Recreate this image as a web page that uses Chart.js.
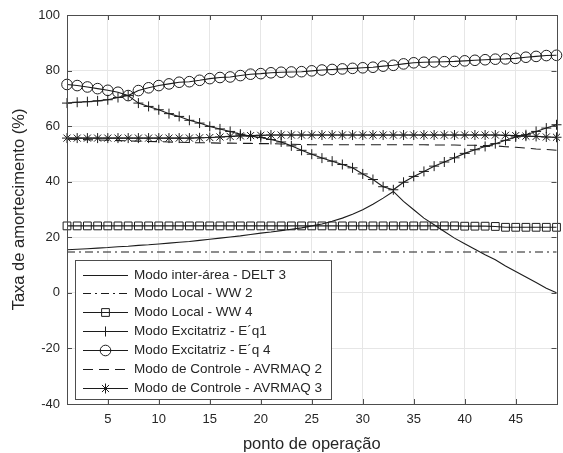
<!DOCTYPE html>
<html>
<head>
<meta charset="utf-8">
<script src="https://cdn.jsdelivr.net/npm/chart.js@4.4.1/dist/chart.umd.min.js"></script>
<style>
  html, body { margin: 0; padding: 0; background: #fff; }
  canvas { display: block; }
</style>
</head>
<body>
<canvas id="dampingChart" width="563" height="453"></canvas>
<script>
// ponto de operação 1..49
const operatingPoints = [1,2,3,4,5,6,7,8,9,10,11,12,13,14,15,16,17,18,19,20,21,22,23,24,25,26,27,28,29,30,31,32,33,34,35,36,37,38,39,40,41,42,43,44,45,46,47,48,49];
const xTickValues = [5,10,15,20,25,30,35,40,45];
const yTickValues = [-40,-20,0,20,40,60,80,100];

// taxa de amortecimento (%) por modo
const delt3 = [15.5,15.7,15.9,16.1,16.3,16.6,16.8,17.1,17.3,17.6,17.9,18.2,18.5,18.9,19.3,19.7,20.1,20.5,21.0,21.5,21.9,22.4,22.9,23.4,24.1,24.8,25.8,26.9,28.3,29.9,31.9,34.1,36.5,32.9,29.9,26.9,24.5,22.1,19.7,17.7,15.7,13.7,11.9,9.7,7.7,5.7,3.7,1.7,0.0];
const ww2 = [14.7,14.7,14.7,14.7,14.7,14.7,14.7,14.7,14.7,14.7,14.7,14.7,14.7,14.7,14.7,14.7,14.7,14.7,14.7,14.7,14.7,14.7,14.7,14.7,14.7,14.7,14.7,14.7,14.7,14.7,14.7,14.7,14.7,14.7,14.7,14.7,14.7,14.7,14.7,14.7,14.7,14.7,14.7,14.7,14.7,14.7,14.7,14.7,14.7];
const ww4 = [24.1,24.1,24.1,24.1,24.1,24.1,24.1,24.1,24.1,24.1,24.1,24.1,24.1,24.1,24.1,24.1,24.1,24.1,24.1,24.1,24.1,24.1,24.1,24.1,24.1,24.1,24.1,24.1,24.1,24.1,24.1,24.1,24.1,24.1,24.1,24.1,24.1,24.1,24.1,24.0,24.0,24.0,23.9,23.6,23.6,23.6,23.6,23.6,23.6];
const eq1 = [68.3,68.6,68.8,69.1,69.5,70.3,71.0,68.3,67.1,65.9,64.5,63.5,62.1,61.1,59.9,59.0,58.1,57.1,56.4,55.9,55.2,54.3,52.9,51.3,49.9,48.5,47.4,46.2,45.0,42.8,40.8,38.2,37.1,39.8,41.9,43.7,45.6,47.1,48.6,50.2,51.5,52.7,53.7,54.9,56.1,56.9,58.1,59.3,60.5];
const eq4 = [75.0,74.6,74.1,73.5,72.9,72.2,71.0,72.8,73.8,74.6,75.2,75.8,76.0,76.5,77.1,77.5,77.7,78.2,78.7,78.9,79.2,79.4,79.5,79.6,79.9,80.2,80.4,80.6,80.8,81.0,81.2,81.6,81.9,82.4,82.8,83.0,83.1,83.2,83.3,83.5,83.7,83.9,84.1,84.2,84.4,84.8,85.1,85.4,85.5];
const avrmaq2 = [55.3,55.2,55.1,55.0,54.9,54.8,54.7,54.6,54.5,54.4,54.3,54.2,54.1,54.0,54.0,53.9,53.9,53.8,53.8,53.7,53.7,53.6,53.5,53.4,53.3,53.3,53.3,53.3,53.3,53.3,53.3,53.3,53.3,53.3,53.3,53.3,53.2,53.2,53.2,53.1,53.1,53.0,52.9,52.6,52.4,52.1,51.8,51.6,51.3];
const avrmaq3 = [55.7,55.7,55.7,55.7,55.7,55.7,55.7,55.7,55.7,55.7,55.7,55.7,55.7,55.8,55.9,56.1,56.3,56.5,56.6,56.7,56.8,56.8,56.8,56.8,56.8,56.8,56.8,56.8,56.8,56.8,56.8,56.8,56.8,56.8,56.8,56.8,56.8,56.8,56.8,56.8,56.8,56.8,56.8,56.7,56.6,56.4,56.3,56.1,56.0];

const seriesNames = [
    'Modo inter-área - DELT 3',
    'Modo Local - WW 2',
    'Modo Local - WW 4',
    'Modo Excitatriz - E\u00B4q1',
    'Modo Excitatriz - E\u00B4q 4',
    'Modo de Controle - AVRMAQ 2',
    'Modo de Controle - AVRMAQ 3'
];

const FONT = "'Liberation Sans', Arial, sans-serif";
const INK = '#1c1c1c';
const FRAME = '#4d4d4d';

function toPoints(values) {
    return operatingPoints.map((x, i) => ({ x: x, y: values[i] }));
}

function series(i, values, dash, marker, size) {
    return {
        label: seriesNames[i],
        data: toPoints(values),
        borderColor: INK,
        borderWidth: 1.1,
        borderDash: dash,
        pointStyle: marker || 'circle',
        pointRadius: marker ? size : 0,
        pointBorderColor: INK,
        pointBorderWidth: 1,
        pointBackgroundColor: 'rgba(0,0,0,0)',
        tension: 0,
        clip: false
    };
}

// box round the axes with MATLAB-style inward ticks
const axesFrame = {
    id: 'axesFrame',
    afterDraw(chart) {
        const ctx = chart.ctx;
        const a = chart.chartArea;
        const xs = chart.scales.x, ys = chart.scales.y;
        const tl = 5;
        ctx.save();
        ctx.strokeStyle = FRAME;
        ctx.lineWidth = 1;
        ctx.beginPath();
        xTickValues.forEach(v => {
            const px = Math.round(xs.getPixelForValue(v)) + 0.5;
            ctx.moveTo(px, a.bottom); ctx.lineTo(px, a.bottom - tl);
            ctx.moveTo(px, a.top); ctx.lineTo(px, a.top + tl);
        });
        yTickValues.forEach(v => {
            const py = Math.round(ys.getPixelForValue(v)) + 0.5;
            ctx.moveTo(a.left, py); ctx.lineTo(a.left + tl, py);
            ctx.moveTo(a.right, py); ctx.lineTo(a.right - tl, py);
        });
        ctx.stroke();
        ctx.strokeRect(Math.round(a.left) + 0.5, Math.round(a.top) + 0.5,
            Math.round(a.right - a.left), Math.round(a.bottom - a.top));
        ctx.restore();
    }
};

// legend box in the lower left corner of the axes
const insideLegend = {
    id: 'insideLegend',
    afterDraw(chart) {
        const ctx = chart.ctx;
        const a = chart.chartArea;
        const w = 256, h = 139;
        const left = a.left + 8, top = a.bottom - 5 - h;
        const rowStep = 18.95, firstRow = top + 14.5;
        ctx.save();
        ctx.fillStyle = '#fff';
        ctx.fillRect(left, top, w, h);
        ctx.strokeStyle = FRAME;
        ctx.lineWidth = 1;
        ctx.strokeRect(Math.round(left) + 0.5, Math.round(top) + 0.5, w, h);
        chart.data.datasets.forEach((ds, i) => {
            const y = Math.round(firstRow + i * rowStep) + 0.5;
            const x0 = left + 8, x1 = left + 53;
            ctx.strokeStyle = INK;
            ctx.lineWidth = 1;
            ctx.setLineDash(ds.borderDash || []);
            ctx.beginPath();
            ctx.moveTo(x0, y); ctx.lineTo(x1, y);
            ctx.stroke();
            ctx.setLineDash([]);
            if (ds.pointRadius > 0) {
                ctx.fillStyle = 'rgba(0,0,0,0)';
                Chart.helpers.drawPoint(ctx, {
                    pointStyle: ds.pointStyle, radius: ds.pointRadius,
                    rotation: 0, borderWidth: 1
                }, (x0 + x1) / 2, y);
            }
            ctx.fillStyle = '#262626';
            ctx.font = '13.5px ' + FONT;
            ctx.textBaseline = 'middle';
            ctx.fillText(ds.label, left + 59, y);
        });
        ctx.restore();
    }
};

function initChart() {
    const ctx = document.getElementById('dampingChart').getContext('2d');
    return new Chart(ctx, {
        type: 'line',
        data: {
            datasets: [
                series(0, delt3, []),
                series(1, ww2, [8, 4, 2, 4]),
                series(2, ww4, [], 'rect', 5.5),
                series(3, eq1, [], 'cross', 5),
                series(4, eq4, [], 'circle', 5.3),
                series(5, avrmaq2, [10, 6]),
                series(6, avrmaq3, [], 'star', 5)
            ]
        },
        options: {
            responsive: false,
            animation: false,
            devicePixelRatio: 1,
            events: [],
            layout: { padding: { left: 0, top: 15, right: 3, bottom: 0 } },
            plugins: { legend: { display: false }, tooltip: { enabled: false } },
            scales: {
                x: {
                    type: 'linear', min: 1, max: 49,
                    afterBuildTicks: s => { s.ticks = xTickValues.map(v => ({ value: v })); },
                    afterFit: s => { s.height = 49; },
                    grid: { color: '#e6e6e6', drawTicks: false },
                    border: { display: false },
                    ticks: { color: '#262626', padding: 8, maxRotation: 0, font: { family: FONT, size: 13 } },
                    title: { display: true, text: 'ponto de operação', color: '#262626',
                        font: { family: FONT, size: 16.5, lineHeight: 1 }, padding: { top: 0, bottom: 0 } }
                },
                y: {
                    min: -40, max: 100,
                    afterBuildTicks: s => { s.ticks = yTickValues.map(v => ({ value: v })); },
                    afterFit: s => { s.width = 67; },
                    grid: { color: '#e6e6e6', drawTicks: false },
                    border: { display: false },
                    ticks: { color: '#262626', padding: 7, font: { family: FONT, size: 13 } },
                    title: { display: true, text: 'Taxa de amortecimento (%)', color: '#262626',
                        font: { family: FONT, size: 16.5, lineHeight: 1.2 }, padding: { top: 10, bottom: 0 } }
                }
            }
        },
        plugins: [axesFrame, insideLegend]
    });
}

initChart();
</script>
</body>
</html>
